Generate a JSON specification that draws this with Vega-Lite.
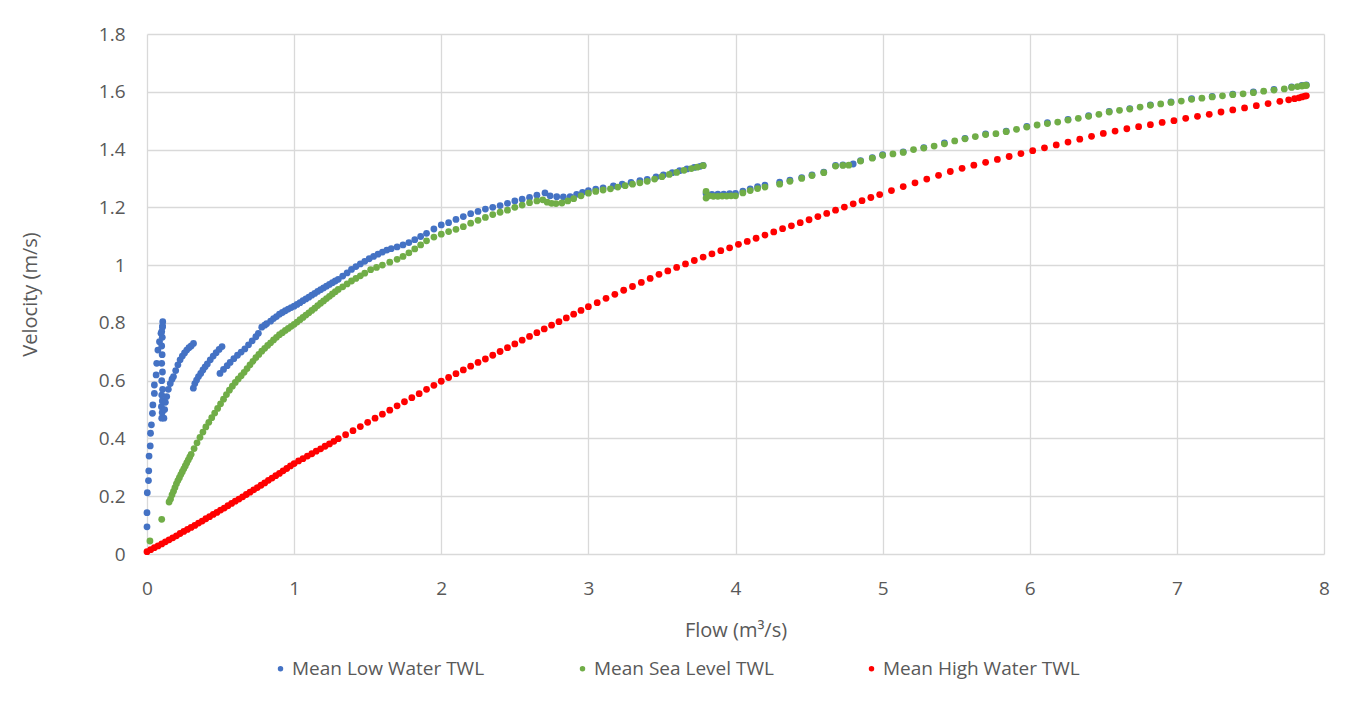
{
  "$schema": "https://vega.github.io/schema/vega-lite/v6.json",
  "autosize": "none",
  "width": 1177,
  "height": 520,
  "padding": {"left": 147, "top": 34, "right": 44, "bottom": 151},
  "background": "white",
  "datasets": {
    "low": [
      {"q":0,"v":0.094},{"q":0,"v":0.143},{"q":0.002,"v":0.212},{"q":0.01,"v":0.254},{"q":0.012,"v":0.288},{"q":0.014,"v":0.339},{"q":0.022,"v":0.374},{"q":0.024,"v":0.418},{"q":0.03,"v":0.447},{"q":0.037,"v":0.487},{"q":0.04,"v":0.516},{"q":0.05,"v":0.556},{"q":0.05,"v":0.585},{"q":0.062,"v":0.62},{"q":0.066,"v":0.66},{"q":0.074,"v":0.706},{"q":0.085,"v":0.735},{"q":0.095,"v":0.764},{"q":0.105,"v":0.785},{"q":0.107,"v":0.804},
      {"q":0.1,"v":0.47},{"q":0.103,"v":0.49},{"q":0.098,"v":0.51},{"q":0.104,"v":0.53},{"q":0.1,"v":0.55},{"q":0.106,"v":0.57},{"q":0.1,"v":0.6},{"q":0.105,"v":0.63},{"q":0.1,"v":0.66},{"q":0.103,"v":0.69},{"q":0.1,"v":0.72},{"q":0.104,"v":0.75},{"q":0.1,"v":0.77},{"q":0.106,"v":0.79},
      {"q":0.115,"v":0.47},{"q":0.12,"v":0.5},{"q":0.125,"v":0.525},{"q":0.134,"v":0.545},{"q":0.145,"v":0.57},{"q":0.158,"v":0.59},{"q":0.17,"v":0.605},{"q":0.18,"v":0.614},{"q":0.195,"v":0.635},{"q":0.21,"v":0.655},{"q":0.225,"v":0.672},{"q":0.24,"v":0.685},{"q":0.255,"v":0.696},{"q":0.27,"v":0.706},{"q":0.285,"v":0.714},{"q":0.3,"v":0.72},{"q":0.316,"v":0.729},
      {"q":0.315,"v":0.574},{"q":0.325,"v":0.59},{"q":0.337,"v":0.602},{"q":0.35,"v":0.614},{"q":0.365,"v":0.625},{"q":0.38,"v":0.637},{"q":0.395,"v":0.648},{"q":0.41,"v":0.658},{"q":0.43,"v":0.672},{"q":0.45,"v":0.685},{"q":0.47,"v":0.697},{"q":0.49,"v":0.708},{"q":0.51,"v":0.718},
      {"q":0.496,"v":0.625},{"q":0.52,"v":0.639},{"q":0.545,"v":0.652},{"q":0.565,"v":0.663},{"q":0.59,"v":0.676},{"q":0.615,"v":0.688},{"q":0.64,"v":0.699},{"q":0.665,"v":0.71},{"q":0.69,"v":0.724},{"q":0.715,"v":0.738},{"q":0.74,"v":0.752},{"q":0.757,"v":0.764},{"q":0.78,"v":0.785},{"q":0.8,"v":0.792},{"q":0.813,"v":0.797},{"q":0.84,"v":0.806},{"q":0.86,"v":0.815},{"q":0.88,"v":0.822},{"q":0.9,"v":0.83},{"q":0.92,"v":0.836},{"q":0.94,"v":0.842},{"q":0.96,"v":0.848},{"q":0.98,"v":0.853},{"q":1.0,"v":0.858},
      {"q":1.02,"v":0.864},{"q":1.04,"v":0.87},{"q":1.06,"v":0.877},{"q":1.08,"v":0.883},{"q":1.1,"v":0.889},{"q":1.12,"v":0.896},{"q":1.14,"v":0.902},{"q":1.16,"v":0.909},{"q":1.18,"v":0.915},{"q":1.2,"v":0.921},{"q":1.22,"v":0.927},{"q":1.24,"v":0.933},{"q":1.26,"v":0.939},{"q":1.28,"v":0.945},{"q":1.3,"v":0.951},{"q":1.33,"v":0.962},{"q":1.36,"v":0.973},{"q":1.39,"v":0.985},{"q":1.42,"v":0.995},{"q":1.45,"v":1.004},{"q":1.48,"v":1.013},{"q":1.51,"v":1.022},{"q":1.54,"v":1.03},{"q":1.57,"v":1.038},{"q":1.6,"v":1.045},{"q":1.63,"v":1.052},{"q":1.66,"v":1.057},{"q":1.7,"v":1.063},{"q":1.74,"v":1.07},{"q":1.78,"v":1.078},{"q":1.82,"v":1.088},{"q":1.86,"v":1.099},{"q":1.9,"v":1.11},{"q":1.95,"v":1.125},{"q":2.0,"v":1.139},{"q":2.05,"v":1.147},{"q":2.1,"v":1.158},{"q":2.15,"v":1.168},{"q":2.2,"v":1.178},{"q":2.25,"v":1.186},{"q":2.3,"v":1.194},{"q":2.35,"v":1.2},{"q":2.4,"v":1.206},{"q":2.45,"v":1.214},{"q":2.5,"v":1.222},{"q":2.55,"v":1.228},{"q":2.6,"v":1.234},{"q":2.65,"v":1.242},{"q":2.705,"v":1.25},{"q":2.74,"v":1.24},{"q":2.785,"v":1.237},{"q":2.83,"v":1.236},{"q":2.876,"v":1.237},{"q":2.92,"v":1.245},{"q":2.96,"v":1.252},{"q":3.0,"v":1.258},{"q":3.05,"v":1.263},{"q":3.1,"v":1.267},{"q":3.17,"v":1.274},{"q":3.23,"v":1.28},{"q":3.29,"v":1.286},{"q":3.35,"v":1.292},{"q":3.4,"v":1.297},{"q":3.46,"v":1.305},{"q":3.51,"v":1.312},{"q":3.57,"v":1.32},{"q":3.62,"v":1.327},{"q":3.67,"v":1.333},{"q":3.72,"v":1.338},{"q":3.76,"v":1.342},{"q":3.78,"v":1.345},
      {"q":3.8,"v":1.248},{"q":3.84,"v":1.245},{"q":3.88,"v":1.246},{"q":3.92,"v":1.246},{"q":3.96,"v":1.247},{"q":4.0,"v":1.248},{"q":4.05,"v":1.256},{"q":4.1,"v":1.264},{"q":4.15,"v":1.272},{"q":4.2,"v":1.277},{"q":4.3,"v":1.287},{"q":4.37,"v":1.294},{"q":4.45,"v":1.303},{"q":4.52,"v":1.312},{"q":4.6,"v":1.322},{"q":4.68,"v":1.345},{"q":4.73,"v":1.347},{"q":4.8,"v":1.35},{"q":4.85,"v":1.362},{"q":4.93,"v":1.372},{"q":5.0,"v":1.382},{"q":5.14,"v":1.392},{"q":5.28,"v":1.407},{"q":5.42,"v":1.423},{"q":5.56,"v":1.439},{"q":5.7,"v":1.454},{"q":5.84,"v":1.464},{"q":5.98,"v":1.48},{"q":6.12,"v":1.493},{"q":6.26,"v":1.504},{"q":6.4,"v":1.517},{"q":6.54,"v":1.532},{"q":6.68,"v":1.542},{"q":6.82,"v":1.555},{"q":6.96,"v":1.565},{"q":7.1,"v":1.576},{"q":7.24,"v":1.584},{"q":7.38,"v":1.592},{"q":7.52,"v":1.6},{"q":7.66,"v":1.608},{"q":7.78,"v":1.617},{"q":7.85,"v":1.622},{"q":7.88,"v":1.624}
    ],
    "msl": [
      {"q":0.02,"v":0.045},{"q":0.1,"v":0.12},
      {"q":0.15,"v":0.18},{"q":0.16,"v":0.19},{"q":0.17,"v":0.205},{"q":0.18,"v":0.217},{"q":0.19,"v":0.23},{"q":0.2,"v":0.243},{"q":0.21,"v":0.254},{"q":0.22,"v":0.264},{"q":0.23,"v":0.275},{"q":0.24,"v":0.285},{"q":0.25,"v":0.295},{"q":0.26,"v":0.305},{"q":0.27,"v":0.315},{"q":0.28,"v":0.325},{"q":0.29,"v":0.335},{"q":0.3,"v":0.345},{"q":0.32,"v":0.365},{"q":0.34,"v":0.385},{"q":0.36,"v":0.404},{"q":0.38,"v":0.422},{"q":0.4,"v":0.44},{"q":0.42,"v":0.456},{"q":0.44,"v":0.472},{"q":0.46,"v":0.488},{"q":0.48,"v":0.504},{"q":0.5,"v":0.52},{"q":0.52,"v":0.536},{"q":0.54,"v":0.552},{"q":0.56,"v":0.567},{"q":0.58,"v":0.581},{"q":0.6,"v":0.594},{"q":0.62,"v":0.606},{"q":0.64,"v":0.617},{"q":0.66,"v":0.629},{"q":0.68,"v":0.642},{"q":0.7,"v":0.655},{"q":0.72,"v":0.667},{"q":0.74,"v":0.68},{"q":0.76,"v":0.691},{"q":0.78,"v":0.702},{"q":0.8,"v":0.712},{"q":0.82,"v":0.722},{"q":0.84,"v":0.731},{"q":0.86,"v":0.741},{"q":0.88,"v":0.75},{"q":0.9,"v":0.759},{"q":0.92,"v":0.766},{"q":0.94,"v":0.774},{"q":0.96,"v":0.781},{"q":0.98,"v":0.788},{"q":1.0,"v":0.795},
      {"q":1.02,"v":0.803},{"q":1.04,"v":0.811},{"q":1.06,"v":0.819},{"q":1.08,"v":0.827},{"q":1.1,"v":0.835},{"q":1.12,"v":0.843},{"q":1.14,"v":0.851},{"q":1.16,"v":0.86},{"q":1.18,"v":0.868},{"q":1.2,"v":0.876},{"q":1.22,"v":0.884},{"q":1.24,"v":0.892},{"q":1.26,"v":0.9},{"q":1.28,"v":0.908},{"q":1.3,"v":0.916},{"q":1.33,"v":0.925},{"q":1.36,"v":0.935},{"q":1.39,"v":0.945},{"q":1.42,"v":0.954},{"q":1.45,"v":0.963},{"q":1.48,"v":0.972},{"q":1.52,"v":0.984},{"q":1.56,"v":0.992},{"q":1.6,"v":1.0},{"q":1.65,"v":1.01},{"q":1.7,"v":1.02},{"q":1.74,"v":1.03},{"q":1.78,"v":1.042},{"q":1.82,"v":1.056},{"q":1.86,"v":1.07},{"q":1.9,"v":1.084},{"q":1.95,"v":1.097},{"q":2.0,"v":1.107},{"q":2.05,"v":1.116},{"q":2.1,"v":1.124},{"q":2.15,"v":1.133},{"q":2.2,"v":1.145},{"q":2.25,"v":1.155},{"q":2.3,"v":1.165},{"q":2.35,"v":1.175},{"q":2.4,"v":1.183},{"q":2.45,"v":1.19},{"q":2.5,"v":1.2},{"q":2.55,"v":1.208},{"q":2.6,"v":1.216},{"q":2.65,"v":1.222},{"q":2.69,"v":1.226},{"q":2.72,"v":1.218},{"q":2.75,"v":1.214},{"q":2.78,"v":1.213},{"q":2.82,"v":1.215},{"q":2.86,"v":1.222},{"q":2.9,"v":1.23},{"q":2.95,"v":1.24},{"q":3.0,"v":1.249},{"q":3.05,"v":1.255},{"q":3.1,"v":1.26},{"q":3.15,"v":1.264},{"q":3.2,"v":1.27},{"q":3.25,"v":1.275},{"q":3.3,"v":1.28},{"q":3.35,"v":1.285},{"q":3.4,"v":1.29},{"q":3.45,"v":1.298},{"q":3.5,"v":1.306},{"q":3.55,"v":1.314},{"q":3.6,"v":1.321},{"q":3.65,"v":1.328},{"q":3.7,"v":1.334},{"q":3.74,"v":1.339},{"q":3.78,"v":1.344},
      {"q":3.8,"v":1.255},{"q":3.8,"v":1.232},{"q":3.82,"v":1.24},{"q":3.85,"v":1.238},{"q":3.88,"v":1.238},{"q":3.91,"v":1.239},{"q":3.94,"v":1.239},{"q":3.97,"v":1.24},{"q":4.0,"v":1.24},{"q":4.05,"v":1.25},{"q":4.1,"v":1.258},{"q":4.15,"v":1.265},{"q":4.2,"v":1.27},{"q":4.3,"v":1.28},{"q":4.37,"v":1.29},{"q":4.45,"v":1.3},{"q":4.52,"v":1.31},{"q":4.6,"v":1.32},{"q":4.68,"v":1.343},{"q":4.73,"v":1.345},{"q":4.77,"v":1.346},{"q":4.85,"v":1.36},{"q":4.93,"v":1.37},{"q":5.0,"v":1.38},{"q":5.07,"v":1.385},{"q":5.14,"v":1.39},{"q":5.21,"v":1.4},{"q":5.28,"v":1.405},{"q":5.35,"v":1.412},{"q":5.42,"v":1.42},{"q":5.49,"v":1.43},{"q":5.56,"v":1.437},{"q":5.63,"v":1.445},{"q":5.7,"v":1.452},{"q":5.77,"v":1.455},{"q":5.84,"v":1.462},{"q":5.91,"v":1.47},{"q":5.98,"v":1.478},{"q":6.05,"v":1.485},{"q":6.12,"v":1.49},{"q":6.19,"v":1.495},{"q":6.26,"v":1.502},{"q":6.33,"v":1.508},{"q":6.4,"v":1.515},{"q":6.47,"v":1.522},{"q":6.54,"v":1.53},{"q":6.61,"v":1.536},{"q":6.68,"v":1.54},{"q":6.75,"v":1.547},{"q":6.82,"v":1.553},{"q":6.89,"v":1.558},{"q":6.96,"v":1.563},{"q":7.03,"v":1.568},{"q":7.1,"v":1.574},{"q":7.17,"v":1.578},{"q":7.24,"v":1.582},{"q":7.31,"v":1.586},{"q":7.38,"v":1.59},{"q":7.45,"v":1.593},{"q":7.52,"v":1.597},{"q":7.59,"v":1.602},{"q":7.66,"v":1.606},{"q":7.73,"v":1.61},{"q":7.78,"v":1.615},{"q":7.82,"v":1.618},{"q":7.85,"v":1.62},{"q":7.87,"v":1.622},{"q":7.88,"v":1.622}
    ],
    "high": [
      {"q":0,"v":0.008},{"q":0.025,"v":0.015},{"q":0.05,"v":0.022},{"q":0.075,"v":0.028},{"q":0.1,"v":0.035},{"q":0.125,"v":0.042},{"q":0.15,"v":0.049},{"q":0.175,"v":0.056},{"q":0.2,"v":0.063},{"q":0.225,"v":0.071},{"q":0.25,"v":0.078},{"q":0.275,"v":0.085},{"q":0.3,"v":0.092},{"q":0.325,"v":0.099},{"q":0.35,"v":0.107},{"q":0.375,"v":0.114},{"q":0.4,"v":0.122},{"q":0.425,"v":0.129},{"q":0.45,"v":0.137},{"q":0.475,"v":0.144},{"q":0.5,"v":0.152},{"q":0.525,"v":0.159},{"q":0.55,"v":0.167},{"q":0.575,"v":0.175},{"q":0.6,"v":0.183},{"q":0.625,"v":0.19},{"q":0.65,"v":0.198},{"q":0.675,"v":0.206},{"q":0.7,"v":0.214},{"q":0.725,"v":0.222},{"q":0.75,"v":0.23},{"q":0.775,"v":0.238},{"q":0.8,"v":0.246},{"q":0.825,"v":0.255},{"q":0.85,"v":0.263},{"q":0.875,"v":0.271},{"q":0.9,"v":0.279},{"q":0.925,"v":0.288},{"q":0.95,"v":0.296},{"q":0.975,"v":0.305},{"q":1.0,"v":0.313},
      {"q":1.03,"v":0.322},{"q":1.06,"v":0.33},{"q":1.09,"v":0.339},{"q":1.12,"v":0.347},{"q":1.15,"v":0.356},{"q":1.18,"v":0.364},{"q":1.21,"v":0.373},{"q":1.24,"v":0.381},{"q":1.27,"v":0.39},{"q":1.3,"v":0.399},{"q":1.35,"v":0.413},{"q":1.4,"v":0.427},{"q":1.45,"v":0.441},{"q":1.5,"v":0.456},{"q":1.55,"v":0.47},{"q":1.6,"v":0.484},{"q":1.65,"v":0.498},{"q":1.7,"v":0.513},{"q":1.75,"v":0.527},{"q":1.8,"v":0.541},{"q":1.85,"v":0.555},{"q":1.9,"v":0.57},{"q":1.95,"v":0.584},{"q":2.0,"v":0.598},
      {"q":2.05,"v":0.611},{"q":2.1,"v":0.624},{"q":2.15,"v":0.637},{"q":2.2,"v":0.65},{"q":2.25,"v":0.663},{"q":2.3,"v":0.675},{"q":2.35,"v":0.688},{"q":2.4,"v":0.701},{"q":2.45,"v":0.714},{"q":2.5,"v":0.727},{"q":2.55,"v":0.74},{"q":2.6,"v":0.753},{"q":2.65,"v":0.766},{"q":2.7,"v":0.779},{"q":2.75,"v":0.792},{"q":2.8,"v":0.804},{"q":2.85,"v":0.817},{"q":2.9,"v":0.83},{"q":2.95,"v":0.843},{"q":3.0,"v":0.856},
      {"q":3.06,"v":0.87},{"q":3.12,"v":0.885},{"q":3.18,"v":0.899},{"q":3.24,"v":0.913},{"q":3.3,"v":0.926},{"q":3.36,"v":0.94},{"q":3.42,"v":0.954},{"q":3.48,"v":0.968},{"q":3.54,"v":0.98},{"q":3.6,"v":0.992},{"q":3.66,"v":1.004},{"q":3.72,"v":1.016},{"q":3.78,"v":1.028},{"q":3.84,"v":1.039},{"q":3.9,"v":1.05},{"q":3.96,"v":1.06},{"q":4.02,"v":1.072},
      {"q":4.08,"v":1.082},{"q":4.14,"v":1.093},{"q":4.2,"v":1.104},{"q":4.26,"v":1.115},{"q":4.32,"v":1.126},{"q":4.38,"v":1.136},{"q":4.44,"v":1.147},{"q":4.5,"v":1.157},{"q":4.56,"v":1.168},{"q":4.62,"v":1.179},{"q":4.68,"v":1.19},{"q":4.74,"v":1.201},{"q":4.8,"v":1.212},{"q":4.86,"v":1.223},{"q":4.92,"v":1.234},{"q":4.98,"v":1.244},
      {"q":5.06,"v":1.258},{"q":5.14,"v":1.272},{"q":5.22,"v":1.285},{"q":5.3,"v":1.298},{"q":5.38,"v":1.311},{"q":5.46,"v":1.324},{"q":5.54,"v":1.335},{"q":5.62,"v":1.346},{"q":5.7,"v":1.356},{"q":5.78,"v":1.366},{"q":5.86,"v":1.376},{"q":5.94,"v":1.386},
      {"q":6.02,"v":1.396},{"q":6.1,"v":1.406},{"q":6.18,"v":1.416},{"q":6.26,"v":1.426},{"q":6.34,"v":1.436},{"q":6.42,"v":1.446},{"q":6.5,"v":1.456},{"q":6.58,"v":1.464},{"q":6.66,"v":1.472},{"q":6.74,"v":1.479},{"q":6.82,"v":1.486},{"q":6.9,"v":1.494},{"q":6.98,"v":1.5},
      {"q":7.06,"v":1.508},{"q":7.14,"v":1.515},{"q":7.22,"v":1.522},{"q":7.3,"v":1.53},{"q":7.38,"v":1.537},{"q":7.46,"v":1.544},{"q":7.54,"v":1.552},{"q":7.62,"v":1.559},{"q":7.7,"v":1.567},{"q":7.76,"v":1.572},{"q":7.8,"v":1.576},{"q":7.83,"v":1.579},{"q":7.85,"v":1.582},{"q":7.87,"v":1.585},{"q":7.88,"v":1.586}
    ]
  },
  "config": {
    "font": "Open Sans",
    "view": {"stroke": null},
    "axis": {
      "grid": true,
      "gridColor": "#D9D9D9",
      "gridWidth": 1.3,
      "domain": false,
      "ticks": false,
      "labelFontSize": 19,
      "labelColor": "#595959",
      "labelFlush": false,
      "titleFontSize": 20,
      "titleColor": "#595959",
      "titleFontWeight": "normal"
    }
  },
  "layer": [
    {
      "data": {"name": "low"},
      "mark": {"type": "point", "filled": true, "opacity": 1, "size": 46},
      "encoding": {
        "x": {"field": "q", "type": "quantitative", "scale": {"domain": [0, 8], "nice": false}, "axis": {"title": "Flow (m³/s)", "values": [0,1,2,3,4,5,6,7,8], "format": "d", "labelPadding": 25, "titlePadding": 22}},
        "y": {"field": "v", "type": "quantitative", "scale": {"domain": [0, 1.8], "nice": false}, "axis": {"title": "Velocity (m/s)", "values": [0,0.2,0.4,0.6,0.8,1,1.2,1.4,1.6,1.8], "format": "~g", "labelPadding": 22, "titlePadding": 58}},
        "color": {"datum": "Mean Low Water TWL", "type": "nominal", "scale": {"domain": ["Mean Low Water TWL", "Mean Sea Level TWL", "Mean High Water TWL"], "range": ["#4472C4", "#70AD47", "#FF0000"]},
          "legend": {"title": null, "orient": "none", "direction": "horizontal", "legendX": 124, "legendY": 625, "symbolType": "circle", "symbolSize": 30, "labelFontSize": 19, "labelColor": "#595959", "labelOffset": 2, "labelLimit": 500, "columnPadding": 88, "padding": 0}}
      }
    },
    {
      "data": {"name": "msl"},
      "mark": {"type": "point", "filled": true, "opacity": 1, "size": 46},
      "encoding": {
        "x": {"field": "q", "type": "quantitative"},
        "y": {"field": "v", "type": "quantitative"},
        "color": {"datum": "Mean Sea Level TWL", "type": "nominal"}
      }
    },
    {
      "data": {"name": "high"},
      "mark": {"type": "point", "filled": true, "opacity": 1, "size": 46},
      "encoding": {
        "x": {"field": "q", "type": "quantitative"},
        "y": {"field": "v", "type": "quantitative"},
        "color": {"datum": "Mean High Water TWL", "type": "nominal"}
      }
    }
  ]
}
